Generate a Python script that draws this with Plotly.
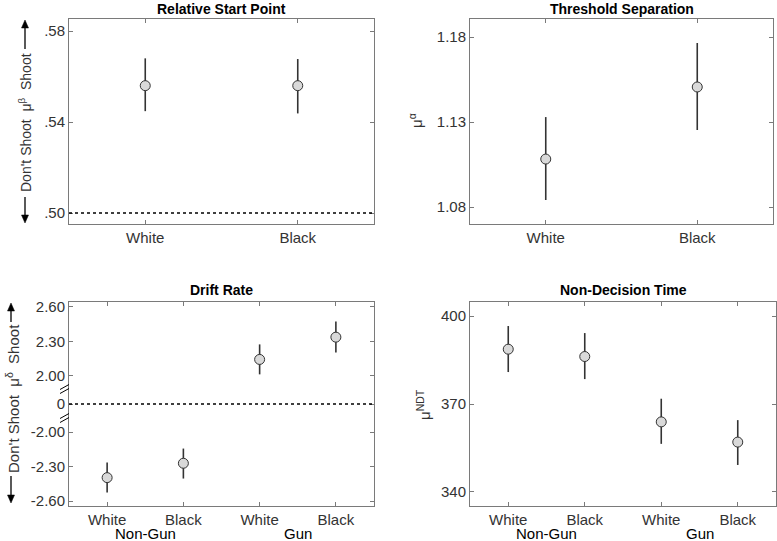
import plotly.graph_objects as go

W, H = 777, 541

# ---------------- data ----------------
race2 = ["White", "Black"]
start_mean = [0.556, 0.556]
start_hi = [0.568, 0.5677]
start_lo = [0.5448, 0.5438]
start_ticks = [0.50, 0.54, 0.58]
start_ticktext = [".50", ".54", ".58"]

thr_mean = [1.1082, 1.1506]
thr_hi = [1.1329, 1.1765]
thr_lo = [1.0841, 1.1253]
thr_ticks = [1.08, 1.13, 1.18]
thr_ticktext = ["1.08", "1.13", "1.18"]

race4 = ["White", "Black", "White", "Black"]
groups = ["Non-Gun", "Gun"]
drift_mean = [-2.396, -2.271, 2.143, 2.337]
drift_hi = [-2.265, -2.143, 2.274, 2.474]
drift_lo = [-2.526, -2.404, 2.013, 2.204]
drift_ticks = [-2.60, -2.30, -2.00, 0, 2.00, 2.30, 2.60]
drift_ticktext = ["-2.60", "-2.30", "-2.00", "0", "2.00", "2.30", "2.60"]

ndt_mean = [388.7, 386.2, 363.9, 357.0]
ndt_hi = [396.6, 394.2, 371.8, 364.5]
ndt_lo = [380.9, 378.5, 356.4, 349.2]
ndt_ticks = [340, 370, 400]
ndt_ticktext = ["340", "370", "400"]

# broken axis transform for drift rate
GAP = 0.245
def brk(v):
    if v > 0:
        return v - 2.0 + GAP
    if v < 0:
        return v + 2.0 - GAP
    return 0.0

# ---------------- layout helpers ----------------
def px(x):
    return x / W
def py(y):
    return 1 - y / H

FONT = "Liberation Sans, Arial, Helvetica, sans-serif"
AX = "#7a7a7a"
TXT = "#333333"
FS = 15

fig = go.Figure()

def add_points(xs, mean, hi, lo, xa, ya):
    fig.add_trace(go.Scatter(
        x=xs, y=mean, xaxis=xa, yaxis=ya, mode="markers",
        marker=dict(size=10, color="#d9d9d9", line=dict(color="#333333", width=1)),
        error_y=dict(type="data", symmetric=False,
                     array=[h - m for h, m in zip(hi, mean)],
                     arrayminus=[m - l for m, l in zip(mean, lo)],
                     color="#333333", thickness=1.6, width=0),
        showlegend=False, hoverinfo="skip"))

x2 = [1, 2]
x4 = [1, 2, 3, 4]
add_points(x2, start_mean, start_hi, start_lo, "x", "y")
add_points(x2, thr_mean, thr_hi, thr_lo, "x2", "y2")
add_points(x4, [brk(v) for v in drift_mean], [brk(v) for v in drift_hi],
           [brk(v) for v in drift_lo], "x3", "y3")
add_points(x4, ndt_mean, ndt_hi, ndt_lo, "x4", "y4")

def axis_common():
    return dict(showline=True, linecolor=AX, linewidth=1, mirror="allticks",
                ticks="inside", ticklen=4, tickcolor=AX, tickwidth=1,
                showgrid=False, zeroline=False, automargin=False,
                tickfont=dict(family=FONT, size=FS, color=TXT))

doms = {
    "TL": ([px(69), px(374)], [py(224), py(19)]),
    "TR": ([px(470), px(773)], [py(224), py(19)]),
    "BL": ([px(69), px(374)], [py(506), py(302)]),
    "BR": ([px(470), px(776)], [py(506), py(302)]),
}

lay = dict(width=W, height=H, margin=dict(l=0, r=0, t=0, b=0, autoexpand=False),
           plot_bgcolor="white", paper_bgcolor="white", showlegend=False)

lay["xaxis"] = dict(axis_common(), domain=doms["TL"][0], range=[0.5, 2.5],
                    tickvals=x2, ticktext=race2, anchor="y")
lay["yaxis"] = dict(axis_common(), domain=doms["TL"][1], range=[0.4952, 0.5853],
                    tickvals=start_ticks, ticktext=start_ticktext, anchor="x")
lay["xaxis2"] = dict(axis_common(), domain=doms["TR"][0], range=[0.5, 2.5],
                     tickvals=x2, ticktext=race2, anchor="y2")
lay["yaxis2"] = dict(axis_common(), domain=doms["TR"][1], range=[1.07, 1.1906],
                     tickvals=thr_ticks, ticktext=thr_ticktext, anchor="x2")
lay["xaxis3"] = dict(axis_common(), domain=doms["BL"][0], range=[0.5, 4.5],
                     tickvals=x4, ticktext=race4, anchor="y3")
lay["yaxis3"] = dict(axis_common(), domain=doms["BL"][1], range=[-0.888, 0.888],
                     tickvals=[brk(v) for v in drift_ticks], ticktext=drift_ticktext,
                     anchor="x3")
lay["xaxis4"] = dict(axis_common(), domain=doms["BR"][0], range=[0.5, 4.5],
                     tickvals=x4, ticktext=race4, anchor="y4")
lay["yaxis4"] = dict(axis_common(), domain=doms["BR"][1], range=[335.2, 404.8],
                     tickvals=ndt_ticks, ticktext=ndt_ticktext, anchor="x4")
fig.update_layout(**lay)

ann = []
# titles
titles = [("Relative Start Point", 221, 9), ("Threshold Separation", 622, 9),
          ("Drift Rate", 221, 290), ("Non-Decision Time", 623, 290)]
for t, x, y in titles:
    ann.append(dict(text="<b>%s</b>" % t, x=px(x), y=py(y), xref="paper", yref="paper",
                    showarrow=False, font=dict(family=FONT, size=14, color="black"),
                    xanchor="center", yanchor="middle"))

# y labels
ann.append(dict(text="Don't Shoot  μ<sup>β</sup>  Shoot", x=px(25), y=py(123),
                xref="paper", yref="paper", showarrow=False, textangle=-90,
                font=dict(family=FONT, size=14, color=TXT), xanchor="center", yanchor="middle"))
ann.append(dict(text="Don't Shoot  μ<sup>δ</sup>  Shoot", x=px(12), y=py(399),
                xref="paper", yref="paper", showarrow=False, textangle=-90,
                font=dict(family=FONT, size=FS, color=TXT), xanchor="center", yanchor="middle"))
ann.append(dict(text="μ<sup>α</sup>", x=px(416), y=py(121),
                xref="paper", yref="paper", showarrow=False, textangle=-90,
                font=dict(family=FONT, size=FS, color=TXT), xanchor="center", yanchor="middle"))
ann.append(dict(text="μ<sup>NDT</sup>", x=px(423), y=py(405),
                xref="paper", yref="paper", showarrow=False, textangle=-90,
                font=dict(family=FONT, size=FS, color=TXT), xanchor="center", yanchor="middle"))

# group labels
for xa in ["x3", "x4"]:
    for gi, g in enumerate(groups):
        ann.append(dict(text=g, x=x4[2 * gi] + 0.5, y=py(533), xref=xa, yref="paper",
                        showarrow=False, font=dict(family=FONT, size=FS, color="black"),
                        xanchor="center", yanchor="middle"))
fig.update_layout(annotations=ann)

shapes = []
# dotted reference lines
shapes.append(dict(type="line", xref="x domain", yref="y", x0=0, x1=1, y0=0.50, y1=0.50,
                   line=dict(color="black", width=1.5, dash="dot")))
shapes.append(dict(type="line", xref="x3 domain", yref="y3", x0=0, x1=1, y0=0, y1=0,
                   line=dict(color="black", width=1.5, dash="dot")))
# axis break marks
for yc in [389, 418]:
    for d in [-2, 2]:
        shapes.append(dict(type="line", xref="paper", yref="paper",
                           x0=px(60), y0=py(yc + d + 2.5), x1=px(69), y1=py(yc + d - 2.5),
                           line=dict(color="black", width=1)))

# arrows on y labels (line + filled head)
def arrow(x, yhead, ytail):
    s = 1 if ytail > yhead else -1
    shapes.append(dict(type="line", xref="paper", yref="paper",
                       x0=px(x), x1=px(x), y0=py(ytail), y1=py(yhead + s * 5),
                       line=dict(color="black", width=1.3)))
    path = "M %f,%f L %f,%f L %f,%f Z" % (
        px(x - 3.5), py(yhead + s * 8), px(x), py(yhead), px(x + 3.5), py(yhead + s * 8))
    shapes.append(dict(type="path", xref="paper", yref="paper", path=path,
                       fillcolor="black", line=dict(color="black", width=0.5)))
arrow(25, 20, 49)
arrow(25, 223, 197)
arrow(11, 303, 322)
arrow(11, 503, 476)
fig.update_layout(shapes=shapes)

fig.write_html("out.html", config={"displayModeBar": False},
               post_script="document.body.style.margin='0px';document.body.style.overflow='hidden';")
